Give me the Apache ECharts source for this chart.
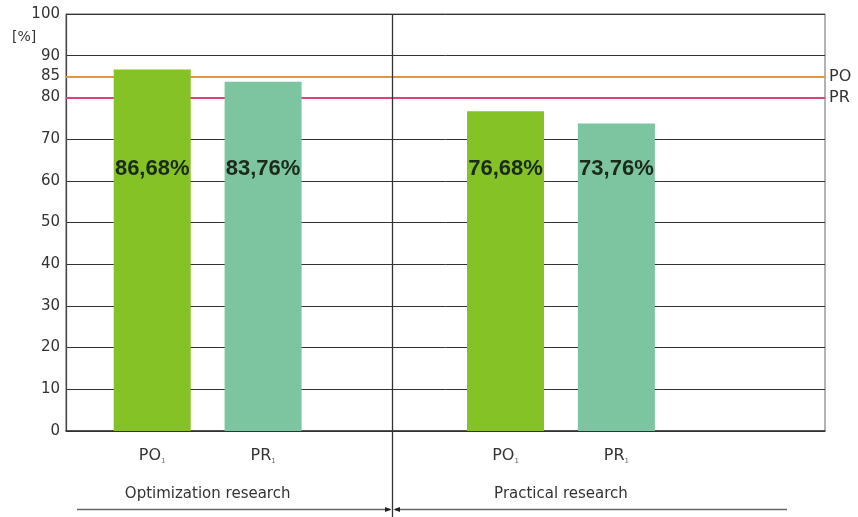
<!DOCTYPE html>
<html>
<head>
<meta charset="utf-8">
<script src="https://cdn.jsdelivr.net/npm/echarts@6/dist/echarts.min.js"></script>
<style>
html,body{margin:0;padding:0;background:#fff;}
#chart{width:858px;height:517px;}
</style>
</head>
<body>
<div id="chart"></div>
<script>
// ---- data ----
const groups = ['Optimization research', 'Practical research'];
const barNames = ['PO', 'PR'];          // each shown with subscript "1"
const barSubscript = '1';
const poValues = [86.68, 76.68];
const prValues = [83.76, 73.76];
const yTicks = [0, 10, 20, 30, 40, 50, 60, 70, 80, 85, 90, 100];
const refNames = ['PO', 'PR'];
const refValues = [85, 80];
const yUnit = '[%]';

const FONT = 'DejaVu Sans';
const chart = echarts.init(document.getElementById('chart'), null, {renderer: 'canvas'});

function pct(v) { return v.toFixed(2).replace('.', ',') + '%'; }

const valueLabel = {
  show: true, position: 'insideBottom', distance: 251,
  fontFamily: 'Liberation Sans', fontWeight: 'bold', fontSize: 22, color: '#1b2a1b',
  formatter: p => pct(p.value)
};
function nameLabel(name) {
  return {
    show: true, position: 'bottom', distance: 15,
    formatter: '{m|' + name + '}{s|' + barSubscript + '}',
    rich: {
      m: {fontFamily: FONT, fontSize: 16, color: '#333', lineHeight: 19},
      s: {fontFamily: FONT, fontSize: 7, color: '#666', verticalAlign: 'bottom', lineHeight: 13}
    }
  };
}

const option = {
  backgroundColor: '#fff',
  animation: false,
  grid: [
    {left: 66, right: 33, top: 14, bottom: 86, show: true, borderColor: '#666', borderWidth: 1},
    {left: 31, right: 120.4, top: 14, bottom: 86}
  ],
  xAxis: [
    {type: 'category', gridIndex: 0, data: [''], axisTick: {show: false}, axisLabel: {show: false},
     axisLine: {lineStyle: {color: '#333', width: 1.5}}},
    {type: 'category', gridIndex: 1, data: groups, axisTick: {show: false}, axisLine: {show: false},
     axisLabel: {margin: 56, fontFamily: FONT, fontSize: 15, color: '#333'}}
  ],
  yAxis: [
    {type: 'value', gridIndex: 0, min: 0, max: 100, interval: 5,
     axisLine: {show: true, lineStyle: {color: '#444', width: 1.2}}, axisTick: {show: false},
     axisLabel: {margin: 6, fontFamily: FONT, fontSize: 15, color: '#333',
       formatter: v => yTicks.indexOf(v) >= 0 ? String(v) : ''},
     splitLine: {show: true, lineStyle: {color: ['#333', 'rgba(0,0,0,0)'], width: 1}}},
    {type: 'value', gridIndex: 1, min: 0, max: 100, show: false, splitLine: {show: false}}
  ],
  series: [
    {type: 'line', xAxisIndex: 0, yAxisIndex: 0, data: [], z: 2,
     markLine: {
       silent: true, symbol: ['none', 'none'], animation: false,
       label: {show: true, position: 'end', distance: 4, fontFamily: FONT, fontSize: 16, color: '#333', formatter: '{b}'},
       data: [
         {name: refNames[0], yAxis: refValues[0], lineStyle: {color: '#E8943A', width: 2, type: 'solid'}},
         {name: refNames[1], yAxis: refValues[1], lineStyle: {color: '#D8457A', width: 2, type: 'solid'}}
       ]
     }},
    {name: barNames[0] + ' label', type: 'bar', xAxisIndex: 1, yAxisIndex: 1, stack: 'po', z: 5,
     barWidth: 77, barGap: '44%', data: groups.map(() => 0),
     itemStyle: {color: 'rgba(0,0,0,0)'}, label: nameLabel(barNames[0])},
    {name: barNames[0], type: 'bar', xAxisIndex: 1, yAxisIndex: 1, stack: 'po', z: 5,
     barWidth: 77, barGap: '44%', data: poValues,
     itemStyle: {color: '#84C225'}, label: valueLabel},
    {name: barNames[1] + ' label', type: 'bar', xAxisIndex: 1, yAxisIndex: 1, stack: 'pr', z: 5,
     barWidth: 77, barGap: '44%', data: groups.map(() => 0),
     itemStyle: {color: 'rgba(0,0,0,0)'}, label: nameLabel(barNames[1])},
    {name: barNames[1], type: 'bar', xAxisIndex: 1, yAxisIndex: 1, stack: 'pr', z: 5,
     barWidth: 77, barGap: '44%', data: prValues,
     itemStyle: {color: '#7DC4A0'}, label: valueLabel}
  ],
  graphic: [
    {type: 'text', left: 12, top: 30, z: 10,
     style: {text: yUnit, font: '14px "DejaVu Sans"', fill: '#333'}},
    {type: 'line', z: 10, shape: {x1: 392.5, y1: 14, x2: 392.5, y2: 517},
     style: {stroke: '#333', lineWidth: 1.3}},
    {type: 'line', z: 10, shape: {x1: 77, y1: 509.5, x2: 390, y2: 509.5},
     style: {stroke: '#666', lineWidth: 1.5}},
    {type: 'line', z: 10, shape: {x1: 395, y1: 509.5, x2: 787, y2: 509.5},
     style: {stroke: '#666', lineWidth: 1.5}},
    {type: 'polygon', z: 11, shape: {points: [[385, 507], [391.5, 509.5], [385, 512]]},
     style: {fill: '#222'}},
    {type: 'polygon', z: 11, shape: {points: [[400, 507], [393.5, 509.5], [400, 512]]},
     style: {fill: '#222'}}
  ]
};
chart.setOption(option);
</script>
</body>
</html>
